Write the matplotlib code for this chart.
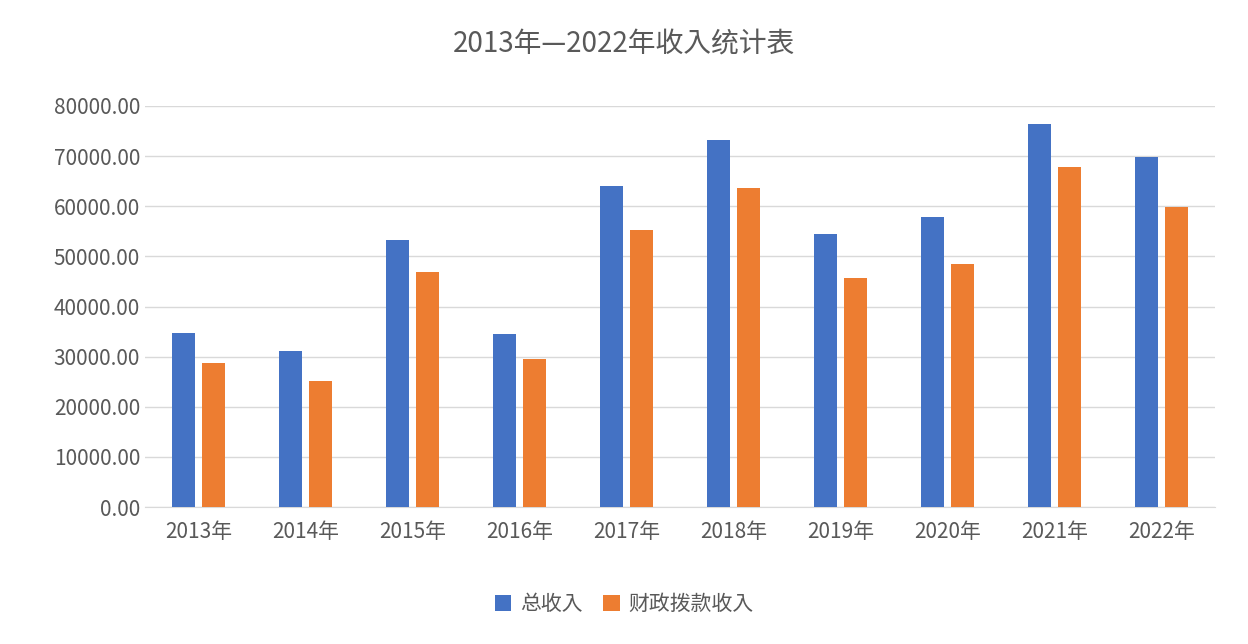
import matplotlib
matplotlib.use('Agg')
import matplotlib.pyplot as plt
import numpy as np

plt.rcParams['font.family'] = ['Noto Sans CJK JP', 'Noto Sans CJK SC', 'DejaVu Sans']

# dados
anos = ['2013年', '2014年', '2015年', '2016年', '2017年', '2018年', '2019年', '2020年', '2021年', '2022年']
total = [34700, 31100, 53300, 34500, 64000, 73200, 54500, 57900, 76400, 69800]
caizheng = [28700, 25100, 46900, 29500, 55300, 63600, 45700, 48500, 67800, 59800]

fig = plt.figure(figsize=(12.48, 6.44), dpi=100)
ax = fig.add_axes([145/1248, 1-507/644, (1215-145)/1248, (507-106)/644])

x = np.arange(len(anos))
w = 0.22
ax.bar(x - w/2 - 0.03, total, w, color='#4472C4', label='总收入', zorder=3)
ax.bar(x + w/2 + 0.03, caizheng, w, color='#ED7D31', label='财政拨款收入', zorder=3)

ax.set_xlim(-0.5, len(anos) - 0.5)
ax.set_ylim(0, 80000)
ax.set_yticks(np.arange(0, 80001, 10000))
ax.set_yticklabels(['%d.00' % v for v in range(0, 80001, 10000)])
ax.set_xticks(x)
ax.set_xticklabels(anos)
ax.tick_params(axis='both', length=0, labelsize=15, colors='#595959')
ax.tick_params(axis='x', pad=10)
ax.grid(axis='y', color='#d9d9d9', linewidth=1, zorder=0)
for s in ['top', 'right', 'left']:
    ax.spines[s].set_visible(False)
ax.spines['bottom'].set_color('#d9d9d9')

fig.text(0.5, 1 - 45/644, '2013年—2022年收入统计表', ha='center', va='center', fontsize=20, color='#595959')
fig.legend(loc='center', bbox_to_anchor=(0.5, 1 - 604/644), ncol=2, frameon=False,
           fontsize=15, handlelength=0.8, handleheight=0.8, columnspacing=1.0,
           handletextpad=0.4, labelcolor='#595959')

fig.savefig('out.png', dpi=100)
